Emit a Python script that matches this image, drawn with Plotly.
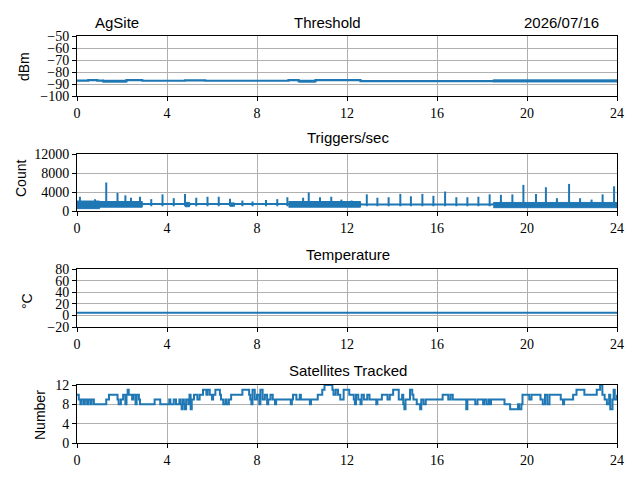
import plotly.graph_objects as go

# %%
# Hours of the day for every series
hours_ticks = [0, 4, 8, 12, 16, 20, 24]

# Threshold (dBm), step line
thr_t = [0, 0.5, 0.9, 1.15, 2.2, 2.9, 4.8, 5.7, 9.4, 9.85, 10.6, 12.6, 18.5, 24]
thr_v = [-87.2, -86.8, -87.2, -87.6, -86.8, -87.3, -86.9, -87.3, -86.8, -87.6, -86.7, -87.6, -87.4, -87.4]
# threshold noisy stretches: start, end, low, high
thr_band_s = [1.15, 9.85, 18.5]
thr_band_e = [2.2, 10.6, 24.0]
thr_band_lo = [-88.4, -88.4, -88.3]
thr_band_hi = [-86.9, -86.9, -86.6]

# Triggers/sec baseline
trig_t = [0, 2.9, 4.8, 5.0, 9.4, 12.6, 18.5, 24]
trig_v = [1400, 1450, 1300, 1450, 1500, 1350, 1400, 1400]
# spikes
spike_t = [0.13, 0.8, 1.3, 1.8, 2.15, 2.4, 2.8, 3.3, 3.8, 4.3, 4.8, 5.3, 5.8, 6.3, 6.8,
           7.35, 7.8, 8.4, 8.9, 9.35, 10.05, 10.3, 10.8, 11.3, 11.75, 12.2, 12.88, 13.35,
           13.85, 14.37, 14.84, 15.35, 15.84, 16.36, 16.86, 17.35, 17.84, 18.34, 18.84,
           19.35, 19.84, 20.4, 20.84, 21.33, 21.87, 22.36, 22.87, 23.36, 23.87]
spike_v = [3000, 2500, 6000, 3800, 3300, 2800, 3000, 2500, 3500, 2700, 3600, 2800, 3000,
           3000, 2600, 2200, 2000, 2300, 2500, 2900, 2800, 3900, 2900, 3000, 2400, 2200,
           3500, 2800, 2900, 3600, 3100, 3600, 3200, 4100, 2900, 2900, 3000, 3500, 3400,
           3500, 5500, 3600, 5000, 2700, 5700, 2700, 2400, 3500, 5200]
# trigger noisy stretches: start, end, low, high
trig_band_s = [0.0, 1.0, 4.8, 6.8, 9.4, 18.5]
trig_band_e = [1.0, 2.9, 5.0, 7.0, 12.6, 24.0]
trig_band_lo = [500, 800, 900, 1000, 800, 700]
trig_band_hi = [2100, 2000, 1800, 1700, 2000, 1800]

# Temperature (degC)
temp_t = [0, 2, 4, 6, 8, 10, 12, 14, 16, 18, 20, 22, 24]
temp_v = [4.4, 4.4, 4.5, 4.5, 4.4, 4.5, 4.5, 4.4, 4.4, 4.5, 4.5, 4.4, 4.4]

# Satellites tracked, step changes
sat_t = [0.00, 0.08, 0.15, 0.2, 0.3, 0.35, 0.45, 0.5, 0.6, 0.65, 0.75, 1.3, 1.42, 1.8, 1.85,
         1.95, 2.05, 2.15, 2.2, 2.25, 2.3, 2.45, 2.5, 2.6, 2.65, 2.75, 2.8, 3.45, 3.7, 4.1,
         4.15, 4.3, 4.4, 4.55, 4.6, 4.65, 4.7, 4.75, 4.8, 4.85, 4.95, 5.0, 5.05, 5.1, 5.2,
         5.35, 5.45, 5.6, 5.75, 5.8, 5.9, 6.0, 6.05, 6.15, 6.35, 6.4, 6.5, 6.6, 6.65, 6.75,
         6.85, 7.35, 7.65, 7.7, 7.75, 7.8, 7.9, 8.0, 8.1, 8.15, 8.25, 8.35, 8.45, 8.5, 8.6,
         8.7, 8.8, 8.85, 9.5, 9.55, 9.6, 9.75, 9.9, 9.95, 10.35, 10.4, 10.7, 10.9, 11.0,
         11.35, 11.4, 11.5, 11.6, 11.7, 11.85, 12.1, 12.3, 12.35, 12.4, 12.5, 12.6, 12.65,
         12.75, 12.9, 13.0, 13.3, 13.35, 13.55, 13.8, 13.9, 14.05, 14.3, 14.45, 14.5, 14.55,
         14.6, 14.8, 14.9, 14.95, 15.1, 15.25, 15.3, 15.4, 15.5, 16.25, 16.5, 16.6, 16.7,
         17.3, 17.35, 17.7, 17.8, 18.05, 18.1, 18.2, 18.3, 18.35, 18.4, 19.0, 19.25, 19.6,
         19.65, 19.75, 19.8, 20.1, 20.2, 20.6, 20.7, 20.8, 20.9, 21.0, 21.5, 21.6, 21.65,
         22.05, 22.2, 22.55, 23.1, 23.25, 23.35, 23.45, 23.55, 23.65, 23.7, 23.8, 23.85,
         23.9, 24.0]
sat_v = [10, 9, 8, 9, 8, 9, 8, 9, 8, 9, 8, 9, 10, 9, 8,
         9, 10, 8, 10, 11, 10, 9, 10, 8, 10, 9, 8, 9, 8, 9,
         8, 9, 8, 9, 8, 7, 9, 8, 7, 9, 8, 10, 7, 9, 10,
         9, 10, 11, 10, 11, 10, 9, 10, 11, 10, 9, 8, 9, 8, 9,
         10, 11, 10, 9, 8, 11, 9, 10, 8, 11, 9, 10, 8, 9, 10,
         9, 8, 9, 8, 9, 10, 9, 10, 9, 8, 9, 10, 11, 12,
         11, 10, 11, 10, 9, 11, 10, 9, 8, 10, 9, 8, 10,
         9, 10, 9, 8, 9, 10, 9, 10, 11, 9, 10, 8, 7,
         9, 11, 10, 9, 8, 7, 9, 8, 9, 10, 9, 10, 9,
         7, 9, 8, 9, 8, 9, 8, 9, 8, 9, 8, 7, 8,
         7, 8, 10, 9, 10, 9, 8, 10, 8, 10, 9, 8, 9,
         10, 11, 10, 11, 12, 10, 9, 8, 10, 7, 9, 11,
         9, 10]

BLUE = "#1f77b4"

# the page puts the plot 8px in from the corner, so work in window pixels
OFF = 8
W, H = 640 - OFF, 480 - OFF


def px(x):
    return (x - OFF) / W


def py(y):
    return 1 - (y - OFF) / H


# %%
fig = go.Figure()

dom_x = [px(77), px(617)]
doms = [[py(96), py(36)],
        [py(211), py(154)],
        [py(327), py(269)],
        [py(443), py(385)]]


def add_bands(s, e, lo, hi, ax):
    for i in range(len(s)):
        fig.add_trace(go.Scatter(
            x=[s[i], e[i], e[i], s[i]], y=[lo[i], lo[i], hi[i], hi[i]],
            fill="toself", fillcolor=BLUE, mode="lines",
            line=dict(color=BLUE, width=1), xaxis="x" + ax, yaxis="y" + ax,
            showlegend=False, hoverinfo="skip"))


# Threshold
add_bands(thr_band_s, thr_band_e, thr_band_lo, thr_band_hi, "")
fig.add_trace(go.Scatter(x=thr_t, y=thr_v, mode="lines", line=dict(color=BLUE, width=2.2, shape="hv"),
                         xaxis="x", yaxis="y", showlegend=False))

# Triggers
add_bands(trig_band_s, trig_band_e, trig_band_lo, trig_band_hi, "2")
fig.add_trace(go.Scatter(x=trig_t, y=trig_v, mode="lines", line=dict(color=BLUE, width=2, shape="hv"),
                         xaxis="x2", yaxis="y2", showlegend=False))
sx, sy = [], []
for t, v in zip(spike_t, spike_v):
    sx += [t, t, None]
    sy += [1000, v, None]
fig.add_trace(go.Scatter(x=sx, y=sy, mode="lines", line=dict(color=BLUE, width=2),
                         xaxis="x2", yaxis="y2", showlegend=False))

# Temperature
fig.add_trace(go.Scatter(x=temp_t, y=temp_v, mode="lines", line=dict(color=BLUE, width=2),
                         xaxis="x3", yaxis="y3", showlegend=False))

# Satellites
fig.add_trace(go.Scatter(x=sat_t, y=sat_v, mode="lines", line=dict(color=BLUE, width=2, shape="hv"),
                         xaxis="x4", yaxis="y4", showlegend=False))

SERIF = "Liberation Serif"
axis_common = dict(showline=True, linecolor="black", linewidth=1, mirror=True,
                   ticks="outside", ticklen=4, tickcolor="black",
                   showgrid=True, gridcolor="#b0b0b0", gridwidth=1,
                   zeroline=False, automargin=False,
                   tickfont=dict(family=SERIF, size=14, color="black"))

yranges = [[-100, -50], [0, 12000], [-20, 80], [0, 12]]
ytickv = [[-100, -90, -80, -70, -60, -50], [0, 4000, 8000, 12000],
          [-20, 0, 20, 40, 60, 80], [0, 4, 8, 12]]
names = ["", "2", "3", "4"]
layout = {}
for i in range(4):
    layout["xaxis" + names[i]] = dict(axis_common, domain=dom_x, range=[0, 24],
                                      tickvals=hours_ticks, anchor="y" + names[i])
    layout["yaxis" + names[i]] = dict(axis_common, domain=doms[i], range=yranges[i],
                                      tickvals=ytickv[i], tickformat="d", anchor="x" + names[i])

fig.update_layout(**layout)

sans = dict(family="Liberation Sans", size=15, color="black")
titles = [("Threshold", 327, 22), ("Triggers/sec", 348, 138),
          ("Temperature", 348, 254), ("Satellites Tracked", 348, 370)]
ann = []
for txt, tx, ty in titles:
    ann.append(dict(text=txt, x=px(tx), y=py(ty), xref="paper", yref="paper",
                    showarrow=False, font=sans, xanchor="center", yanchor="middle"))
ann.append(dict(text="AgSite", x=px(93), y=py(22), xref="paper", yref="paper",
                showarrow=False, font=sans, xanchor="left", yanchor="middle"))
ann.append(dict(text="2026/07/16", x=px(601), y=py(22), xref="paper", yref="paper",
                showarrow=False, font=sans, xanchor="right", yanchor="middle"))
ylabels = [("dBm", 24, 67), ("Count", 21, 179), ("°C", 27, 301), ("Number", 40, 415)]
for txt, lx, ly in ylabels:
    ann.append(dict(text=txt, x=px(lx), y=py(ly), xref="paper", yref="paper",
                    showarrow=False, font=dict(sans, size=14), textangle=-90,
                    xanchor="center", yanchor="middle"))

fig.update_layout(
    width=W, height=H,
    margin=dict(l=0, r=0, t=0, b=0),
    font=dict(family=SERIF, color="black"),
    paper_bgcolor="white", plot_bgcolor="white",
    annotations=ann,
    showlegend=False,
)

fig.write_html("out.html")
